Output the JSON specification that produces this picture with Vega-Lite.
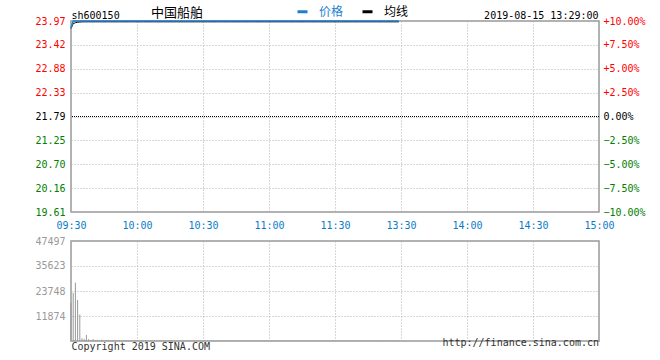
{
  "$schema": "https://vega.github.io/schema/vega-lite/v6.json",
  "padding": {"left": 10, "top": 5, "right": 5, "bottom": 5},
  "background": "white",
  "bounds": "flush",
  "spacing": 29,
  "config": {
    "font": "DejaVu Sans Mono",
    "view": {"stroke": "#999999", "strokeWidth": 1.5},
    "axis": {
      "labelFont": "DejaVu Sans Mono", "labelFontSize": 10, "ticks": false, "domain": false, "labelOverlap": false,
      "gridDash": [1, 2], "gridColor": "#b0b0b0", "gridWidth": 1,
      "titleFont": "DejaVu Sans Mono", "titleFontSize": 10, "titleFontWeight": "normal", "titleColor": "#000000"
    }
  },
  "datasets": {
    "d": [
      {"m":0,"p":23.80,"a":23.80,"v":18000},{"m":1,"p":23.97,"a":23.91,"v":22900},{"m":2,"p":23.97,"a":23.93,"v":27700},{"m":3,"p":23.97,"a":23.94,"v":19500},{"m":4,"p":23.97,"a":23.945,"v":12600},
      {"m":5,"p":23.97,"a":23.95,"v":1300},{"m":6,"p":23.97,"a":23.95,"v":950},{"m":7,"p":23.97,"a":23.95,"v":2850},{"m":8,"p":23.97,"a":23.95,"v":900},{"m":9,"p":23.97,"a":23.95,"v":480},
      {"m":10,"p":23.97,"a":23.95,"v":950},{"m":11,"p":23.97,"a":23.95,"v":420},{"m":12,"p":23.97,"a":23.95,"v":560},{"m":13,"p":23.97,"a":23.95,"v":380},{"m":14,"p":23.97,"a":23.95,"v":610},
      {"m":15,"p":23.97,"a":23.95,"v":300},{"m":16,"p":23.97,"a":23.95,"v":450},{"m":17,"p":23.97,"a":23.95,"v":520},{"m":18,"p":23.97,"a":23.95,"v":280},{"m":19,"p":23.97,"a":23.95,"v":390},
      {"m":20,"p":23.97,"a":23.95,"v":470},{"m":21,"p":23.97,"a":23.95,"v":330},{"m":22,"p":23.97,"a":23.95,"v":510},{"m":23,"p":23.97,"a":23.95,"v":260},{"m":24,"p":23.97,"a":23.95,"v":440},
      {"m":25,"p":23.97,"a":23.95,"v":350},{"m":26,"p":23.97,"a":23.95,"v":300},{"m":27,"p":23.97,"a":23.95,"v":480},{"m":28,"p":23.97,"a":23.95,"v":220},{"m":29,"p":23.97,"a":23.95,"v":360},
      {"m":30,"p":23.97,"a":23.95,"v":410},{"m":31,"p":23.97,"a":23.95,"v":250},{"m":32,"p":23.97,"a":23.95,"v":330},{"m":33,"p":23.97,"a":23.95,"v":290},{"m":34,"p":23.97,"a":23.95,"v":460},
      {"m":35,"p":23.97,"a":23.95,"v":210},{"m":36,"p":23.97,"a":23.95,"v":380},{"m":37,"p":23.97,"a":23.95,"v":270},{"m":38,"p":23.97,"a":23.95,"v":340},{"m":39,"p":23.97,"a":23.95,"v":230},
      {"m":40,"p":23.97,"a":23.95,"v":300},{"m":41,"p":23.97,"a":23.95,"v":420},{"m":42,"p":23.97,"a":23.95,"v":190},{"m":43,"p":23.97,"a":23.95,"v":310},{"m":44,"p":23.97,"a":23.95,"v":260},
      {"m":45,"p":23.97,"a":23.95,"v":350},{"m":46,"p":23.97,"a":23.95,"v":200},{"m":47,"p":23.97,"a":23.95,"v":280},{"m":48,"p":23.97,"a":23.95,"v":330},{"m":49,"p":23.97,"a":23.95,"v":240},
      {"m":50,"p":23.97,"a":23.95,"v":290},{"m":51,"p":23.97,"a":23.95,"v":180},{"m":52,"p":23.97,"a":23.95,"v":360},{"m":53,"p":23.97,"a":23.95,"v":220},{"m":54,"p":23.97,"a":23.95,"v":270},
      {"m":55,"p":23.97,"a":23.95,"v":310},{"m":56,"p":23.97,"a":23.95,"v":200},{"m":57,"p":23.97,"a":23.95,"v":250},{"m":58,"p":23.97,"a":23.95,"v":340},{"m":59,"p":23.97,"a":23.95,"v":190},
      {"m":60,"p":23.97,"a":23.95,"v":280},{"m":61,"p":23.97,"a":23.95,"v":230},{"m":62,"p":23.97,"a":23.95,"v":300},{"m":63,"p":23.97,"a":23.95,"v":170},{"m":64,"p":23.97,"a":23.95,"v":260},
      {"m":65,"p":23.97,"a":23.95,"v":220},{"m":66,"p":23.97,"a":23.95,"v":320},{"m":67,"p":23.97,"a":23.95,"v":190},{"m":68,"p":23.97,"a":23.95,"v":240},{"m":69,"p":23.97,"a":23.95,"v":280},
      {"m":70,"p":23.97,"a":23.95,"v":160},{"m":71,"p":23.97,"a":23.95,"v":250},{"m":72,"p":23.97,"a":23.95,"v":210},{"m":73,"p":23.97,"a":23.95,"v":300},{"m":74,"p":23.97,"a":23.95,"v":180},
      {"m":75,"p":23.97,"a":23.95,"v":230},{"m":76,"p":23.97,"a":23.95,"v":270},{"m":77,"p":23.97,"a":23.95,"v":150},{"m":78,"p":23.97,"a":23.95,"v":240},{"m":79,"p":23.97,"a":23.95,"v":200},
      {"m":80,"p":23.97,"a":23.95,"v":290},{"m":81,"p":23.97,"a":23.95,"v":170},{"m":82,"p":23.97,"a":23.95,"v":220},{"m":83,"p":23.97,"a":23.95,"v":260},{"m":84,"p":23.97,"a":23.95,"v":190},
      {"m":85,"p":23.97,"a":23.95,"v":310},{"m":86,"p":23.97,"a":23.95,"v":160},{"m":87,"p":23.97,"a":23.95,"v":230},{"m":88,"p":23.97,"a":23.95,"v":200},{"m":89,"p":23.97,"a":23.95,"v":250},
      {"m":90,"p":23.97,"a":23.95,"v":180},{"m":91,"p":23.97,"a":23.95,"v":270},{"m":92,"p":23.97,"a":23.95,"v":150},{"m":93,"p":23.97,"a":23.95,"v":220},{"m":94,"p":23.97,"a":23.95,"v":240},
      {"m":95,"p":23.97,"a":23.95,"v":190},{"m":96,"p":23.97,"a":23.95,"v":280},{"m":97,"p":23.97,"a":23.95,"v":170},{"m":98,"p":23.97,"a":23.95,"v":210},{"m":99,"p":23.97,"a":23.95,"v":230},
      {"m":100,"p":23.97,"a":23.95,"v":160},{"m":101,"p":23.97,"a":23.95,"v":250},{"m":102,"p":23.97,"a":23.95,"v":200},{"m":103,"p":23.97,"a":23.95,"v":180},{"m":104,"p":23.97,"a":23.95,"v":260},
      {"m":105,"p":23.97,"a":23.95,"v":150},{"m":106,"p":23.97,"a":23.95,"v":220},{"m":107,"p":23.97,"a":23.95,"v":190},{"m":108,"p":23.97,"a":23.95,"v":240},{"m":109,"p":23.97,"a":23.95,"v":170},
      {"m":110,"p":23.97,"a":23.95,"v":210},{"m":111,"p":23.97,"a":23.95,"v":260},{"m":112,"p":23.97,"a":23.95,"v":180},{"m":113,"p":23.97,"a":23.95,"v":230},{"m":114,"p":23.97,"a":23.95,"v":150},
      {"m":115,"p":23.97,"a":23.95,"v":200},{"m":116,"p":23.97,"a":23.95,"v":250},{"m":117,"p":23.97,"a":23.95,"v":170},{"m":118,"p":23.97,"a":23.95,"v":210},{"m":119,"p":23.97,"a":23.95,"v":300},
      {"m":120,"p":23.97,"a":23.95,"v":350},{"m":121,"p":23.97,"a":23.95,"v":280},{"m":122,"p":23.97,"a":23.95,"v":220},{"m":123,"p":23.97,"a":23.95,"v":260},{"m":124,"p":23.97,"a":23.95,"v":190},
      {"m":125,"p":23.97,"a":23.95,"v":240},{"m":126,"p":23.97,"a":23.95,"v":310},{"m":127,"p":23.97,"a":23.95,"v":180},{"m":128,"p":23.97,"a":23.95,"v":230},{"m":129,"p":23.97,"a":23.95,"v":200},
      {"m":130,"p":23.97,"a":23.95,"v":270},{"m":131,"p":23.97,"a":23.95,"v":160},{"m":132,"p":23.97,"a":23.95,"v":220},{"m":133,"p":23.97,"a":23.95,"v":250},{"m":134,"p":23.97,"a":23.95,"v":190},
      {"m":135,"p":23.97,"a":23.95,"v":300},{"m":136,"p":23.97,"a":23.95,"v":170},{"m":137,"p":23.97,"a":23.95,"v":240},{"m":138,"p":23.97,"a":23.95,"v":210},{"m":139,"p":23.97,"a":23.95,"v":260},
      {"m":140,"p":23.97,"a":23.95,"v":180},{"m":141,"p":23.97,"a":23.95,"v":230},{"m":142,"p":23.97,"a":23.95,"v":290},{"m":143,"p":23.97,"a":23.95,"v":200},{"m":144,"p":23.97,"a":23.95,"v":250},
      {"m":145,"p":23.97,"a":23.95,"v":170},{"m":146,"p":23.97,"a":23.95,"v":220},{"m":147,"p":23.97,"a":23.95,"v":310},{"m":148,"p":23.97,"a":23.95,"v":260},{"m":149,"p":23.97,"a":23.95,"v":340}
    ]
  },
  "vconcat": [
    {
      "width": 528,
      "height": 191,
      "data": {"name": "d"},
      "title": {"text": "中国船舶", "anchor": "start", "frame": "group", "dx": 80, "offset": -10, "font": "Noto Sans CJK SC", "fontSize": 13, "fontWeight": "normal", "color": "#000000"},
      "layer": [
        {
          "encoding": {
            "x": {
              "field": "m", "type": "quantitative",
              "scale": {"domain": [0, 240], "nice": false, "zero": false},
              "axis": {
                "values": [0, 30, 60, 90, 120, 150, 180, 210, 240],
                "labelExpr": "['09:30','10:00','10:30','11:00','11:30','13:30','14:00','14:30','15:00'][round(datum.value/30)]",
                "labelColor": "#0A7BC8", "labelFlush": false, "labelOverlap": false, "labelPadding": 8, "grid": true, "title": null
              }
            }
          },
          "layer": [
            {
              "mark": {"type": "line", "strokeWidth": 1},
              "encoding": {
                "y": {
                  "field": "a", "type": "quantitative",
                  "scale": {"domain": [19.611, 23.969], "nice": false, "zero": false},
                  "axis": {
                    "values": [19.611, 20.1558, 20.7005, 21.2453, 21.79, 22.3348, 22.8795, 23.4243, 23.969],
                    "format": ".2f", "grid": true, "labelPadding": 6, "labelOverlap": false, "labelSeparation": 0, "labelBound": false,
                    "minExtent": 60, "maxExtent": 60,
                    "labelColor": {"condition": [{"test": "datum.value > 21.8", "value": "#ff0000"}, {"test": "datum.value < 21.78", "value": "#008000"}], "value": "#000000"},
                    "title": "sh600150", "titleAngle": 0, "titleAlign": "left", "titleBaseline": "alphabetic", "titleX": 0, "titleY": -3
                  }
                },
                "color": {
                  "datum": "均线", "type": "nominal",
                  "scale": {"domain": ["价格", "均线"], "range": ["#1E7FCF", "#000000"]},
                  "legend": {
                    "orient": "none", "legendX": 225, "legendY": -16, "direction": "horizontal", "title": null,
                    "symbolType": "stroke", "symbolSize": 100, "symbolStrokeWidth": 3,
                    "labelFont": "Noto Sans CJK SC", "labelFontSize": 12, "labelOffset": 10, "columnPadding": 12,
                    "encode": {"labels": {"update": {"fill": {"signal": "datum.label === '价格' ? '#1E7FCF' : '#000000'"}}}}
                  }
                }
              }
            },
            {
              "mark": {"type": "line", "strokeWidth": 1.5},
              "encoding": {
                "y": {
                  "field": "p", "type": "quantitative",
                  "axis": {
                    "values": [19.611, 20.1558, 20.7005, 21.2453, 21.79, 22.3348, 22.8795, 23.4243, 23.969],
                    "format": ".2f", "grid": true, "labelPadding": 6, "labelOverlap": false, "labelSeparation": 0, "labelBound": false,
                    "minExtent": 60, "maxExtent": 60,
                    "labelColor": {"condition": [{"test": "datum.value > 21.8", "value": "#ff0000"}, {"test": "datum.value < 21.78", "value": "#008000"}], "value": "#000000"},
                    "title": "sh600150", "titleAngle": 0, "titleAlign": "left", "titleBaseline": "alphabetic", "titleX": 0, "titleY": -3
                  }
                },
                "color": {"datum": "价格", "type": "nominal"}
              }
            }
          ]
        },
        {
          "data": {"values": [{"pct": 0}]},
          "mark": {"type": "rule", "color": "#000000", "strokeDash": [1, 1], "strokeWidth": 1},
          "encoding": {
            "y": {
              "field": "pct", "type": "quantitative",
              "scale": {"domain": [-10, 10], "nice": false},
              "axis": {
                "orient": "right",
                "values": [-10, -7.5, -5, -2.5, 0, 2.5, 5, 7.5, 10],
                "labelExpr": "(datum.value > 0 ? '+' : '') + format(datum.value, '.2f') + '%'",
                "labelColor": {"condition": [{"test": "datum.value > 0.1", "value": "#ff0000"}, {"test": "datum.value < -0.1", "value": "#008000"}], "value": "#000000"},
                "labelPadding": 4, "labelOverlap": false, "grid": false,
                "title": "2019-08-15 13:29:00", "titleAngle": 0, "titleAlign": "right", "titleBaseline": "alphabetic", "titleX": -1, "titleY": -3
              }
            }
          }
        }
      ],
      "resolve": {"scale": {"y": "independent"}}
    },
    {
      "width": 528,
      "height": 100,
      "data": {"name": "d"},
      "title": {"text": "http://finance.sina.com.cn", "orient": "bottom", "anchor": "end", "frame": "group", "offset": -13, "font": "DejaVu Sans Mono", "fontSize": 10, "fontWeight": "normal", "color": "#333333"},
      "mark": {"type": "rule", "color": "#999999", "strokeWidth": 1},
      "encoding": {
        "x": {
          "field": "m", "type": "quantitative",
          "scale": {"domain": [0, 240], "nice": false, "zero": false},
          "axis": {"values": [0, 30, 60, 90, 120, 150, 180, 210, 240], "labels": false, "grid": true,
                   "title": "Copyright 2019 SINA.COM", "titleAnchor": "start", "titleAlign": "left", "titlePadding": 0, "titleColor": "#333333"}
        },
        "y": {
          "field": "v", "type": "quantitative",
          "scale": {"domain": [0, 47497], "nice": false},
          "axis": {"values": [11874, 23748, 35623, 47497], "format": "d", "labelColor": "#999999", "labelPadding": 6, "labelOverlap": false, "grid": true, "title": null, "minExtent": 60, "maxExtent": 60}
        },
        "y2": {"datum": 0}
      }
    }
  ]
}
